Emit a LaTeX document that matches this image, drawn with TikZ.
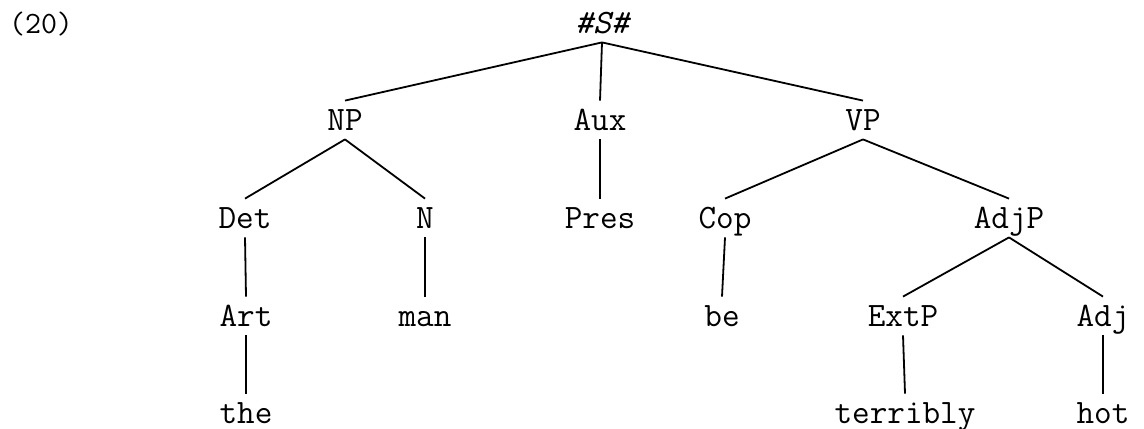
\documentclass[tikz,border=0pt]{standalone}
\usepackage{tikz}
\usepackage{xcolor}

\begin{document}
\begin{tikzpicture}[x=0.5pt, y=-0.5pt,
    cat/.style={anchor=base, inner xsep=1pt, inner ysep=4.5pt, text height=10pt, text depth=0pt, font=\ttfamily\fontsize{17.1}{20}\selectfont},
    branch/.style={line width=0.9pt, black}]
\useasboundingbox (0,0) rectangle (1144,428);
% Example number and root
\node[anchor=base, font=\ttfamily\fontsize{15.5}{18}\selectfont] (num) at (41,33) {(20)};
\node[cat, font=\ttfamily\itshape\fontsize{17.1}{20}\selectfont] (S) at (602,33) {\#S\#};
% Category and word nodes
\foreach \name/\x/\y/\word in {NP/345/130/NP, Aux/600/130/Aux, VP/863/130/VP,
    Det/245/228/Det, N/425/228/N, Pres/600/228/Pres, Cop/725/228/Cop, AdjP/1009/228/AdjP,
    Art/246/326/Art, man/425/326/man, be/722/326/be, ExtP/903/326/ExtP, Adj/1103/326/Adj,
    the/246/423/the, terribly/905/423/terribly, hot/1103/423/hot} {
    \node[cat] (\name) at (\x,\y) {\word};
}
% Branches
\foreach \a/\b in {S/NP, S/Aux, S/VP, NP/Det, NP/N, Aux/Pres, VP/Cop, VP/AdjP,
    Det/Art, N/man, Cop/be, AdjP/ExtP, AdjP/Adj, Art/the, ExtP/terribly, Adj/hot} {
    \draw[branch] (\a.south) -- (\b.north);
}
\end{tikzpicture}
\end{document}
